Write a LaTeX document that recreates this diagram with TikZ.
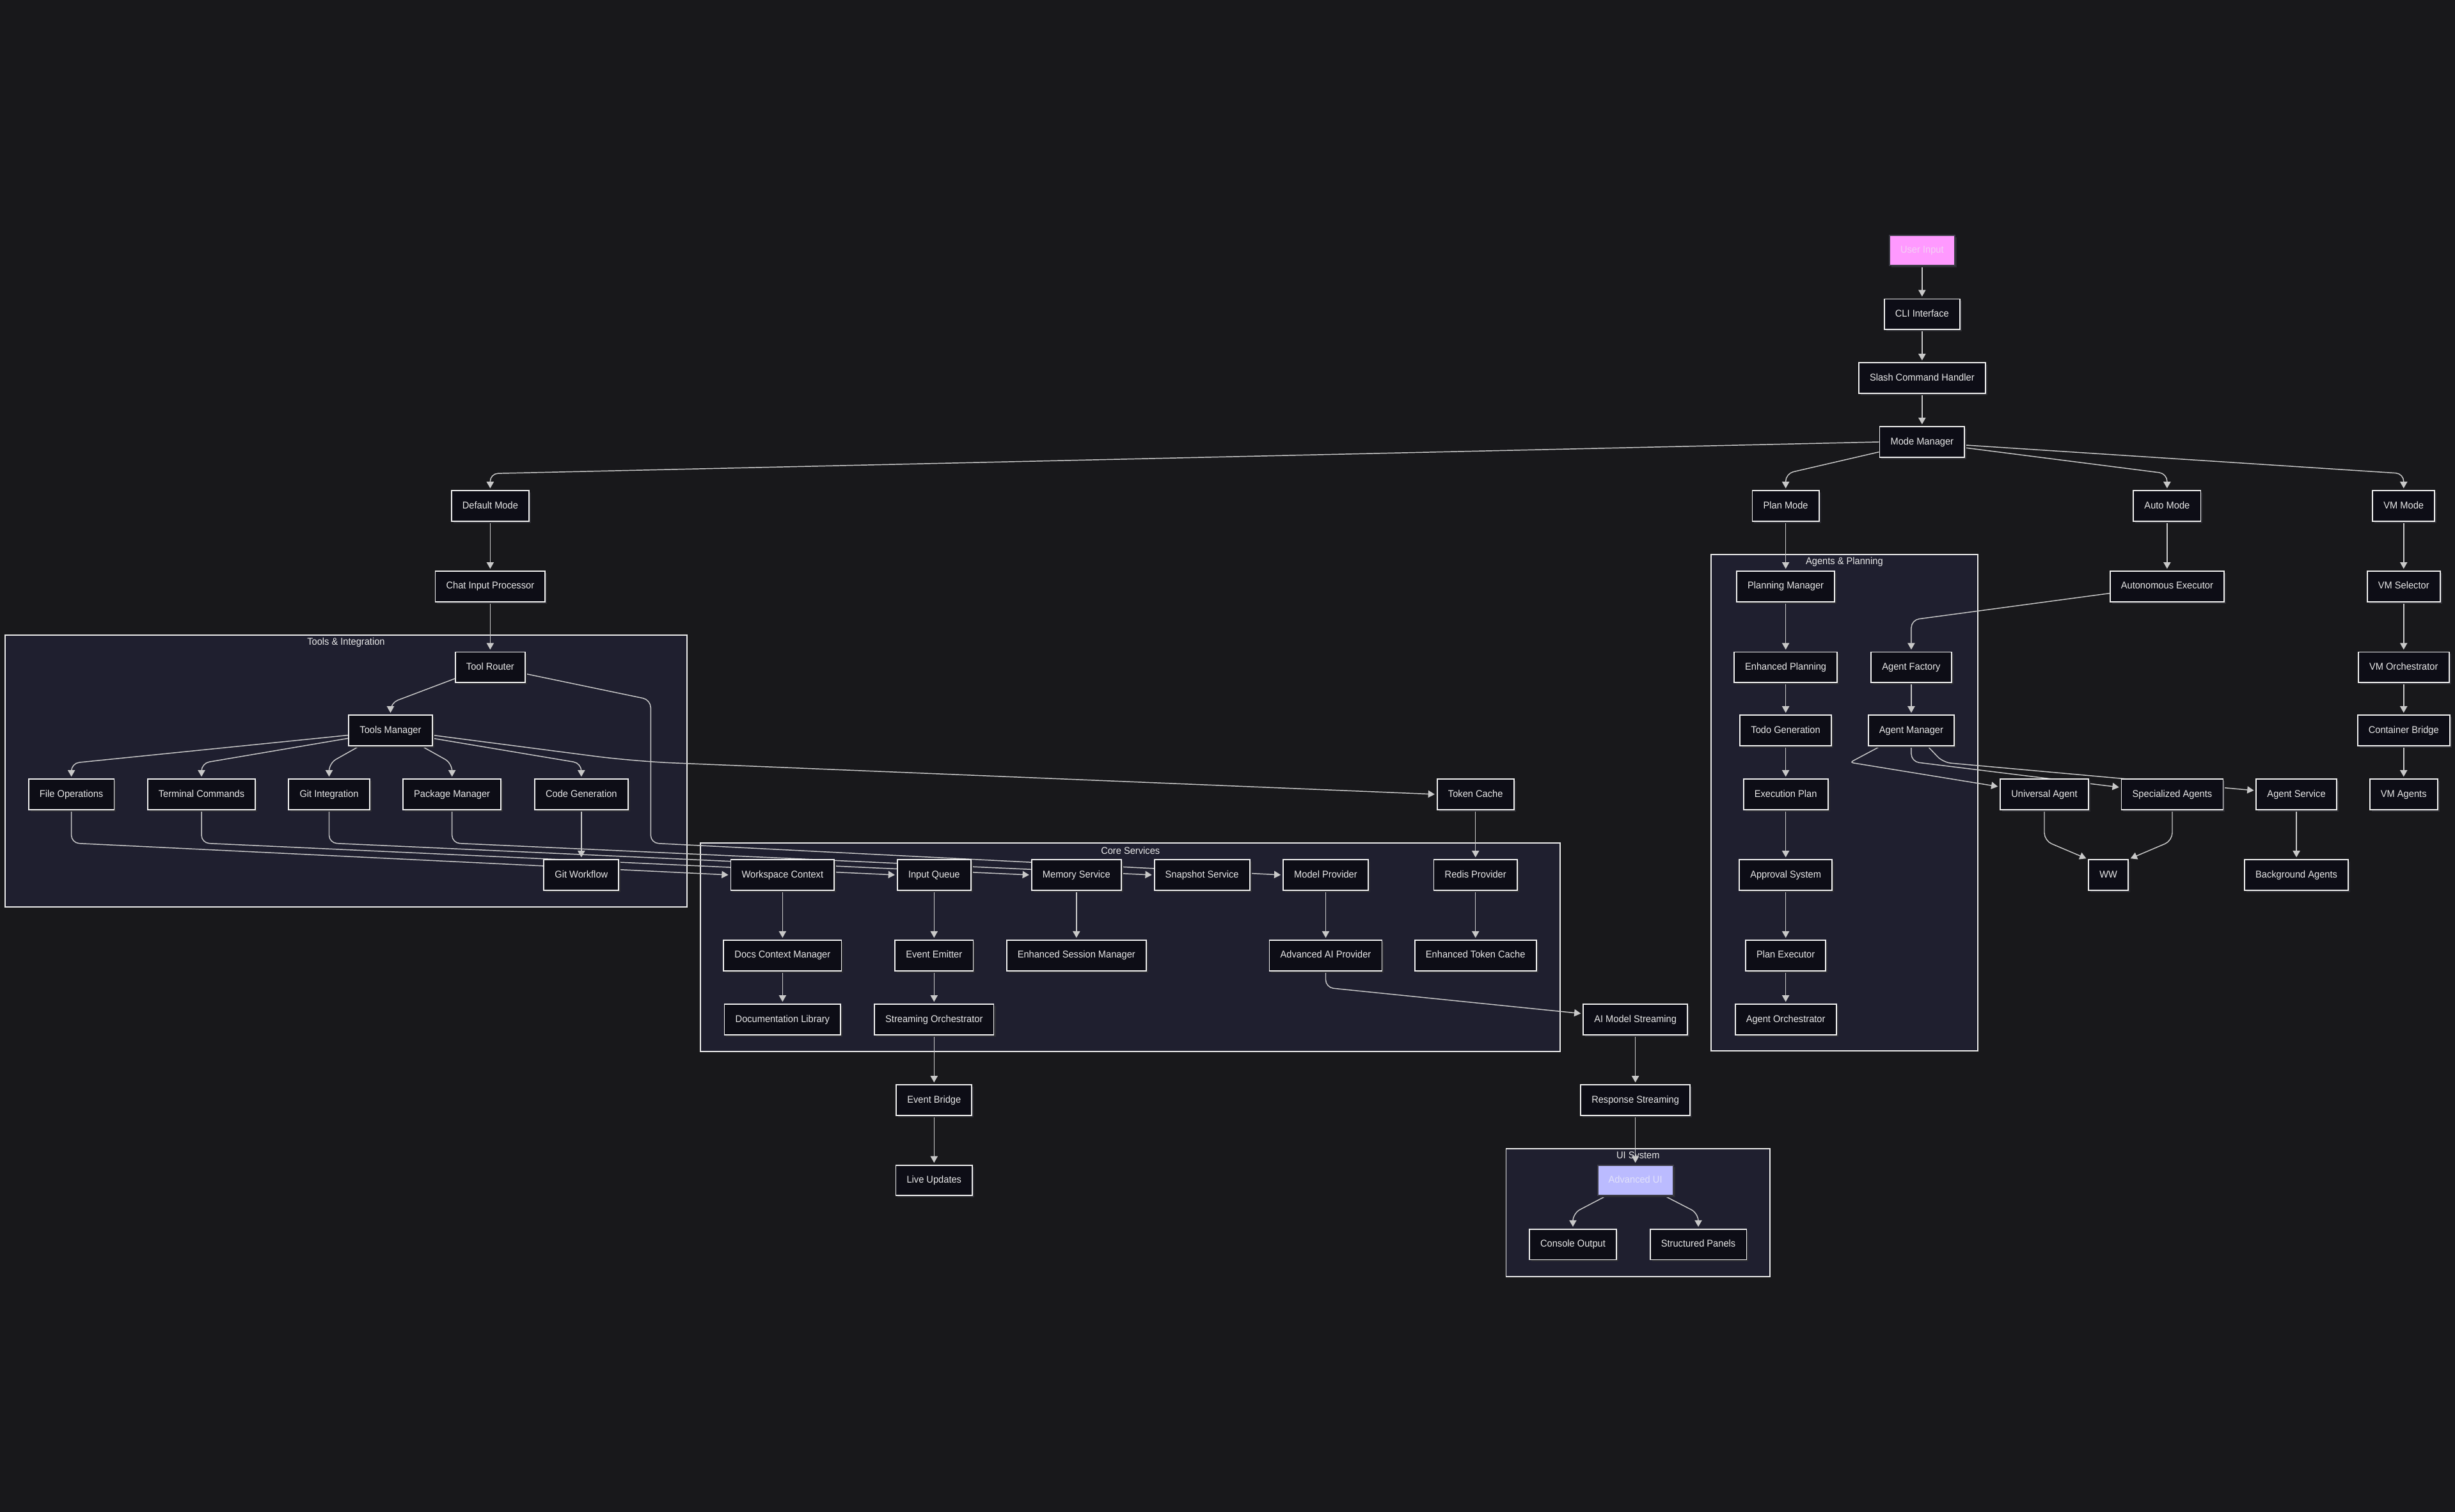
\documentclass[tikz,border=0pt]{standalone}
\usepackage{fontspec}
\setmainfont[FakeStretch=0.95]{Liberation Sans}
\usetikzlibrary{arrows.meta,shadows}
\definecolor{bgc}{RGB}{24,24,27}
\definecolor{clusterfill}{RGB}{31,31,47}
\definecolor{clusterdraw}{RGB}{232,232,232}
\definecolor{nodefill}{RGB}{13,13,22}
\definecolor{nodedraw}{RGB}{238,238,238}
\definecolor{edgec}{RGB}{200,200,200}
\definecolor{textc}{RGB}{232,232,232}
\definecolor{shadowc}{RGB}{44,44,50}
\definecolor{pinkc}{RGB}{255,153,255}
\definecolor{pinktext}{RGB}{245,208,245}
\definecolor{lavc}{RGB}{187,187,255}
\definecolor{lavtext}{RGB}{226,226,250}
\definecolor{specborder}{RGB}{60,60,70}
\pgfdeclarelayer{bg}
\pgfdeclarelayer{edgelayer}
\pgfsetlayers{bg,edgelayer,main}
\begin{document}
\begin{tikzpicture}[x=1pt,y=-1pt,
 box/.style={draw=nodedraw, line width=0.75pt, fill=nodefill, text=textc,
   minimum height=19.4pt, inner xsep=7pt, inner ysep=0pt,
   text height=4.6pt, text depth=1.3pt,
   font=\fontsize{6.3}{7}\selectfont,
   drop shadow={shadow xshift=1.2pt,shadow yshift=-1.2pt,fill=shadowc,opacity=1}},
 pinkbox/.style={box, fill=pinkc, draw=specborder, text=pinktext},
 lavbox/.style={box, fill=lavc, draw=specborder, text=lavtext},
 edge/.style={draw=edgec, line width=0.6pt, -{Triangle[length=4.2pt,width=4.6pt]},
   shorten >=1.2pt, rounded corners=5pt},
 cluster/.style={draw=clusterdraw, fill=clusterfill, line width=0.8pt},
 clabel/.style={text=textc, font=\fontsize{6.3}{7}\selectfont, inner sep=0pt}
]
\useasboundingbox (0,0) rectangle (1568,965.8);

\begin{pgfonlayer}{bg}
\fill[bgc] (0,0) rectangle (1568,965.8);
\draw[cluster] (3.4,405.8) rectangle (438.7,579.4);
\draw[cluster] (447.4,538.5) rectangle (996.4,671.6);
\draw[cluster] (1092.9,354.1) rectangle (1263.1,671.4);
\draw[cluster] (961.9,733.8) rectangle (1130.6,815.3);
\node[clabel] (lbltools) at (221,410.5) {Tools \& Integration};
\node[clabel] (lblcore) at (722,543.2) {Core Services};
\node[clabel] (lblagents) at (1178,358.8) {Agents \& Planning};
\node[clabel] (lblui) at (1046.2,738.5) {UI System};
\end{pgfonlayer}

% nodes
\node[pinkbox] (uin) at (1227.6,160.0) {User Input};
\node[box] (cli) at (1227.6,200.7) {CLI Interface};
\node[box] (slash) at (1227.6,241.5) {Slash Command Handler};
\node[box] (mm) at (1227.6,282.3) {Mode Manager};
\node[box] (dm) at (313.1,323.2) {Default Mode};
\node[box] (pm) at (1140.5,323.2) {Plan Mode};
\node[box] (am) at (1384.1,323.2) {Auto Mode};
\node[box] (vmm) at (1535.2,323.2) {VM Mode};
\node[box] (cip) at (313.1,374.6) {Chat Input Processor};
\node[box] (plm) at (1140.5,374.6) {Planning Manager};
\node[box] (ae) at (1384.1,374.6) {Autonomous Executor};
\node[box] (vms) at (1535.2,374.6) {VM Selector};
\node[box] (tr) at (313.1,426.2) {Tool Router};
\node[box] (ep) at (1140.5,426.2) {Enhanced Planning};
\node[box] (af) at (1220.7,426.2) {Agent Factory};
\node[box] (vmo) at (1535.2,426.2) {VM Orchestrator};
\node[box] (tm) at (249.4,466.6) {Tools Manager};
\node[box] (tg) at (1140.5,466.6) {Todo Generation};
\node[box] (agm) at (1220.7,466.6) {Agent Manager};
\node[box] (cb) at (1535.2,466.6) {Container Bridge};
\node[box] (fo) at (45.6,507.4) {File Operations};
\node[box] (tc) at (128.7,507.4) {Terminal Commands};
\node[box] (gi) at (210.2,507.4) {Git Integration};
\node[box] (pkg) at (288.7,507.4) {Package Manager};
\node[box] (cg) at (371.3,507.4) {Code Generation};
\node[box] (tok) at (942.4,507.4) {Token Cache};
\node[box] (exp) at (1140.5,507.4) {Execution Plan};
\node[box] (ua) at (1305.7,507.4) {Universal Agent};
\node[box] (sa) at (1387.4,507.4) {Specialized Agents};
\node[box] (as) at (1466.7,507.4) {Agent Service};
\node[box] (vma) at (1535.2,507.4) {VM Agents};
\node[box] (gw) at (371.3,558.9) {Git Workflow};
\node[box] (wc) at (499.8,558.9) {Workspace Context};
\node[box] (iq) at (596.6,558.9) {Input Queue};
\node[box] (ms) at (687.5,558.9) {Memory Service};
\node[box] (ss) at (767.7,558.9) {Snapshot Service};
\node[box] (mp) at (846.7,558.9) {Model Provider};
\node[box] (rp) at (942.4,558.9) {Redis Provider};
\node[box] (aps) at (1140.5,558.9) {Approval System};
\node[box] (ww) at (1346.6,558.9) {WW};
\node[box] (bga) at (1466.7,558.9) {Background Agents};
\node[box] (dcm) at (499.8,610.3) {Docs Context Manager};
\node[box] (ee) at (596.6,610.3) {Event Emitter};
\node[box] (esm) at (687.5,610.3) {Enhanced Session Manager};
\node[box] (aap) at (846.7,610.3) {Advanced AI Provider};
\node[box] (etc) at (942.4,610.3) {Enhanced Token Cache};
\node[box] (pe) at (1140.5,610.3) {Plan Executor};
\node[box] (dl) at (499.8,651.2) {Documentation Library};
\node[box] (so) at (596.6,651.2) {Streaming Orchestrator};
\node[box] (aims) at (1044.5,651.2) {AI Model Streaming};
\node[box] (ao) at (1140.5,651.2) {Agent Orchestrator};
\node[box] (eb) at (596.6,702.7) {Event Bridge};
\node[box] (rs) at (1044.5,702.7) {Response Streaming};
\node[box] (lu) at (596.6,754.0) {Live Updates};
\node[lavbox] (aui) at (1044.5,754.0) {Advanced UI};
\node[box] (co) at (1004.6,794.9) {Console Output};
\node[box] (sp) at (1084.7,794.9) {Structured Panels};

\begin{pgfonlayer}{edgelayer}
\draw[edge] (uin) -- (cli);
\draw[edge] (cli) -- (slash);
\draw[edge] (slash) -- (mm);
\draw[edge] (mm.west) -- (313.1,302.5) -- (dm.north);
\draw[edge] ([yshift=-6.4pt]mm.west) -- (1140.5,302.5) -- (pm.north);
\draw[edge] ([yshift=-3.7pt]mm.east) -- (1384.1,302.5) -- (am.north);
\draw[edge] ([yshift=-2pt]mm.east) -- (1535.2,302.5) -- (vmm.north);
\draw[edge] (dm) -- (cip);
\draw[edge] (cip) -- (tr);
\draw[edge] ([yshift=-7.3pt]tr.west) -- (249.4,449) -- (tm.north);
\draw[edge] ([yshift=-4.2pt]tr.east) -- (415.6,447) -- (415.6,538.5) -- (mp.west);
\draw[edge] ([yshift=-3pt]tm.west) -- (45.6,487.5) -- (fo.north);
\draw[edge] ([yshift=-5pt]tm.west) -- (128.7,487.5) -- (tc.north);
\draw[edge] ([xshift=-20pt]tm.south) -- (210.2,487.5) -- (gi.north);
\draw[edge] ([xshift=20pt]tm.south) -- (288.7,487.5) -- (pkg.north);
\draw[edge] ([yshift=-5pt]tm.east) -- (371.3,487.5) -- (cg.north);
\draw[edge, rounded corners=25pt] ([yshift=-3pt]tm.east) -- (405,486.3) -- (tok.west);
\draw[edge] (cg) -- (gw);
\draw[edge] (fo.south) -- (45.6,538.5) -- (wc.west);
\draw[edge] (tc.south) -- (128.7,538.5) -- (iq.west);
\draw[edge] (gi.south) -- (210.2,538.5) -- (ms.west);
\draw[edge] (pkg.south) -- (288.7,538.5) -- (ss.west);
\draw[edge] (tok) -- (rp);
\draw[edge] (wc) -- (dcm);
\draw[edge] (dcm) -- (dl);
\draw[edge] (iq) -- (ee);
\draw[edge] (ee) -- (so);
\draw[edge] (so) -- (eb);
\draw[edge] (eb) -- (lu);
\draw[edge] (ms) -- (esm);
\draw[edge] (mp) -- (aap);
\draw[edge] (rp) -- (etc);
\draw[edge] (aap.south) -- (846.7,630.8) -- ([yshift=3.7pt]aims.west);
\draw[edge] (aims) -- (rs);
\draw[edge] (rs) -- (aui);
\draw[edge] ([xshift=-19pt]aui.south) -- (1004.6,775) -- (co.north);
\draw[edge] ([xshift=19pt]aui.south) -- (1084.7,775) -- (sp.north);
\draw[edge] (pm) -- (plm);
\draw[edge] (plm) -- (ep);
\draw[edge] (ep) -- (tg);
\draw[edge] (tg) -- (exp);
\draw[edge] (exp) -- (aps);
\draw[edge] (aps) -- (pe);
\draw[edge] (pe) -- (ao);
\draw[edge] (am) -- (ae);
\draw[edge] ([yshift=-4.4pt]ae.west) -- (1220.7,396) -- (af.north);
\draw[edge] (af) -- (agm);
\draw[edge, rounded corners=2pt] ([xshift=-19.7pt]agm.south) -- (1181.6,487) -- ([yshift=4.8pt]ua.west);
\draw[edge] (agm.south) -- (1220.7,486.5) -- ([yshift=4.4pt]sa.west);
\draw[edge] ([xshift=10.5pt]agm.south) -- (1241,487) -- ([yshift=2.4pt]as.west);
\draw[edge] (ua.south) -- (1305.7,537) -- (ww.north west);
\draw[edge] (sa.south) -- (1387.4,537) -- (ww.north east);
\draw[edge] (as) -- (bga);
\draw[edge] (vmm) -- (vms);
\draw[edge] (vms) -- (vmo);
\draw[edge] (vmo) -- (cb);
\draw[edge] (cb) -- (vma);
\end{pgfonlayer}
\end{tikzpicture}
\end{document}
